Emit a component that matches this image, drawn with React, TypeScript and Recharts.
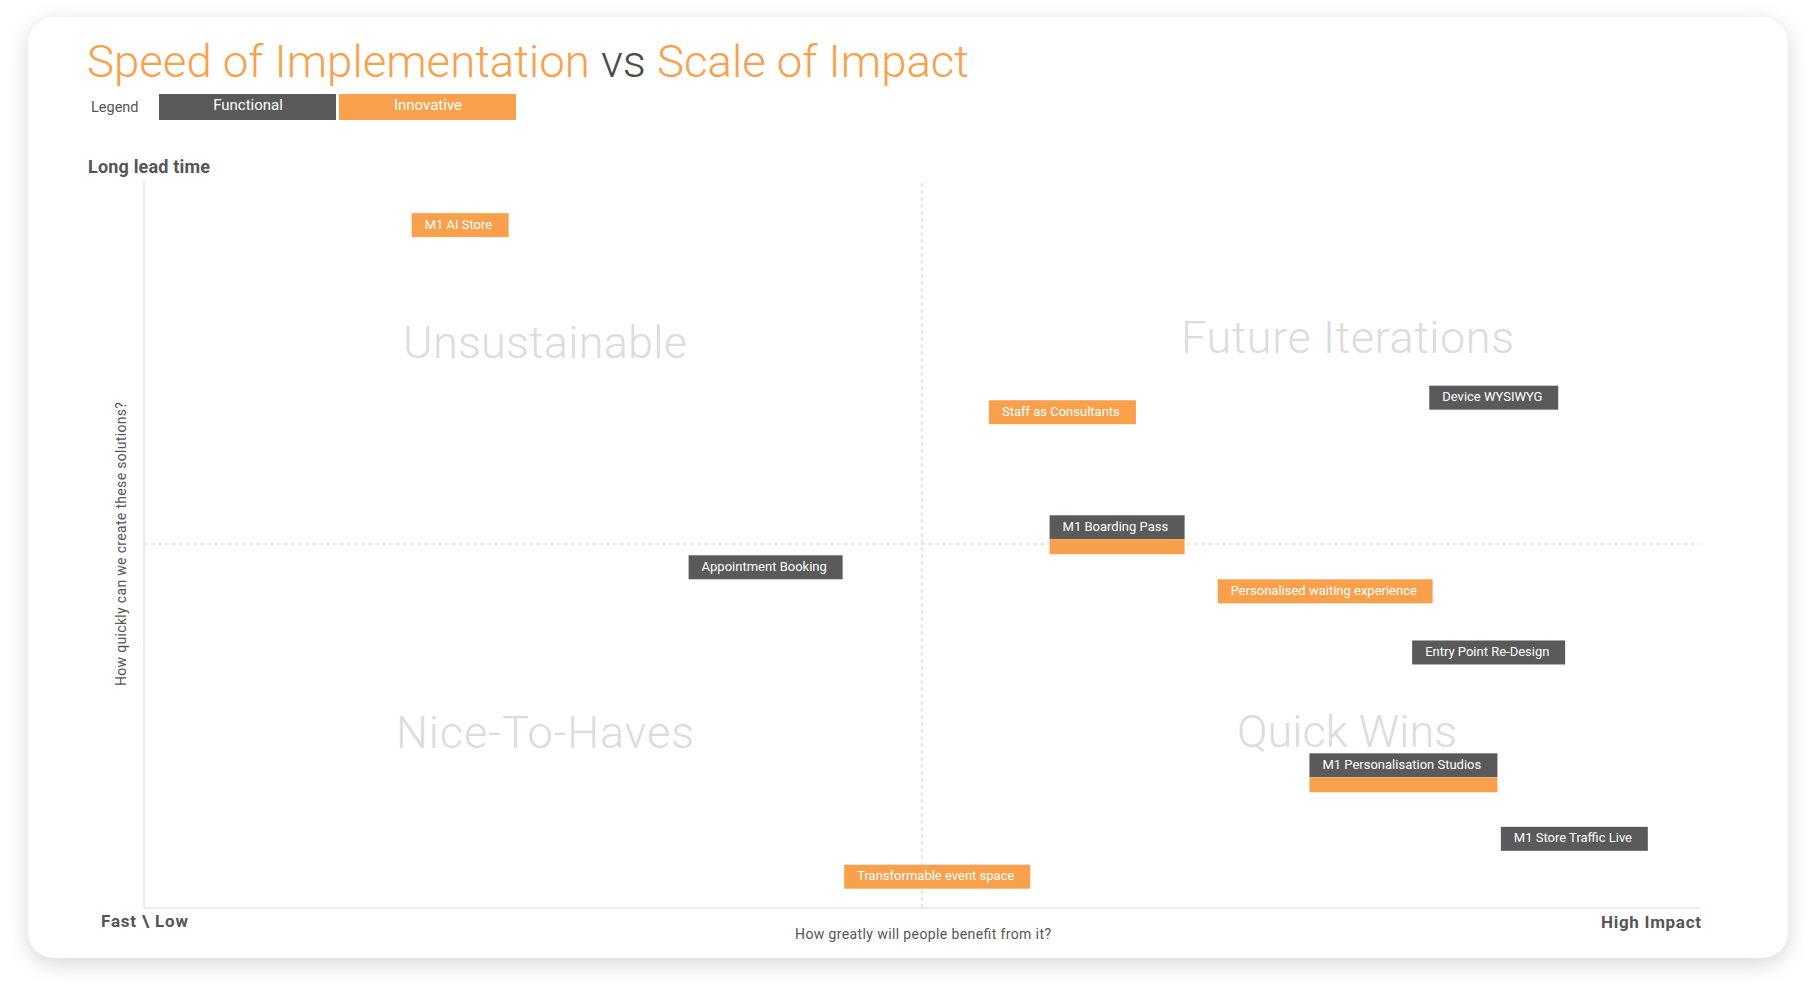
import React from "react";
import {
  ScatterChart,
  Scatter,
  XAxis,
  YAxis,
  ReferenceLine,
} from "recharts";

// solutions on the impact (x) / lead time (y) grid, 0..10 each
const solutions = [
  "M1 AI Store",
  "Staff as Consultants",
  "Device WYSIWYG",
  "M1 Boarding Pass",
  "Appointment Booking",
  "Personalised waiting experience",
  "Entry Point Re-Design",
  "M1 Personalisation Studios",
  "M1 Store Traffic Live",
  "Transformable event space",
];
const impact = [1.72, 5.43, 8.26, 5.82, 3.5, 6.9, 8.15, 7.49, 8.72, 4.5];
const leadTime = [9.38, 6.81, 7.01, 5.23, 4.68, 4.35, 3.51, 1.96, 0.95, 0.43];
const kinds = [
  "innovative",
  "innovative",
  "functional",
  "both",
  "functional",
  "innovative",
  "functional",
  "both",
  "functional",
  "innovative",
];

const legendItems = ["Functional", "Innovative"];
const quadrants = ["Unsustainable", "Future Iterations", "Nice-To-Haves", "Quick Wins"];

const ORANGE = "#F9A04C";
const GREY = "#5a5a5a";
const TEXT = "#555555";
const FONT = "Roboto, 'Noto Sans', sans-serif";

const data = solutions.map((name, i) => ({
  name,
  x: impact[i],
  y: leadTime[i],
  kind: kinds[i],
}));

let ctx: CanvasRenderingContext2D | null = null;
function textWidth(s: string) {
  if (!ctx) ctx = document.createElement("canvas").getContext("2d");
  if (!ctx) return s.length * 6.4;
  ctx.font = "13px Roboto";
  return ctx.measureText(s).width;
}

const Tag = (props: any) => {
  const { cx, cy, payload } = props;
  const w = Math.round(textWidth(payload.name) + 29);
  const top = cy - 12;
  return (
    <g>
      <rect
        x={cx}
        y={top}
        width={w}
        height={24}
        fill={payload.kind === "innovative" ? ORANGE : GREY}
      />
      {payload.kind === "both" && (
        <rect x={cx} y={top + 24} width={w} height={15} fill={ORANGE} />
      )}
      <text
        x={cx + 13}
        y={cy + 3.5}
        fill="#fff"
        fontSize={13}
        fontFamily={FONT}
      >
        {payload.name}
      </text>
    </g>
  );
};

export default function App() {
  return (
    <div
      style={{
        position: "absolute",
        left: 0,
        top: 0,
        width: 1816,
        height: 996,
        background: "#fff",
        overflow: "hidden",
      }}
    >
      <div
        style={{
          position: "absolute",
          left: 28,
          top: 17,
          width: 1760,
          height: 941,
          borderRadius: 26,
          background: "#fff",
          boxShadow: "0 6px 22px rgba(0,0,0,0.16)",
        }}
      />
      <svg
        width={1816}
        height={996}
        style={{ position: "absolute", left: 0, top: 0 }}
        fontFamily={FONT}
      >
        <text x={87} y={77} fontSize={45} fontWeight={300} textLength={882} lengthAdjust="spacingAndGlyphs">
          <tspan fill={ORANGE}>Speed of Implementation </tspan>
          <tspan fill="#4a4a4a">vs </tspan>
          <tspan fill={ORANGE}>Scale of Impact</tspan>
        </text>

        <text x={91} y={112} fontSize={14.5} fill={TEXT}>
          Legend
        </text>
        {legendItems.map((l, i) => (
          <g key={l}>
            <rect x={159 + i * 180} y={94} width={177} height={26} fill={i === 0 ? GREY : ORANGE} />
            <text x={248 + i * 180} y={110} fontSize={15} fill="#fff" textAnchor="middle">
              {l}
            </text>
          </g>
        ))}

        <text x={88} y={173} fontSize={18} fontWeight={700} fill={TEXT} textLength={122}>
          Long lead time
        </text>
        <text x={101} y={927} fontSize={17} fontWeight={700} fill={TEXT} textLength={87}>
          Fast \ Low
        </text>
        <text x={1601} y={928} fontSize={17} fontWeight={700} fill={TEXT} textLength={100}>
          High Impact
        </text>
        <text x={795} y={939} fontSize={14} fill={TEXT} textLength={256}>
          How greatly will people benefit from it?
        </text>
        <text
          transform="translate(126,686) rotate(-90)"
          fontSize={14}
          fill={TEXT}
          textLength={284}
        >
          How quickly can we create these solutions?
        </text>

        <text x={403} y={358} fontSize={45} fontWeight={300} fill="#dcdcdc" textLength={284}>
          {quadrants[0]}
        </text>
        <text x={1181} y={353} fontSize={45} fontWeight={300} fill="#dcdcdc" textLength={333}>
          {quadrants[1]}
        </text>
        <text x={396} y={748} fontSize={45} fontWeight={300} fill="#dcdcdc" textLength={298}>
          {quadrants[2]}
        </text>
        <text x={1237} y={747} fontSize={45} fontWeight={300} fill="#dcdcdc" textLength={220}>
          {quadrants[3]}
        </text>
      </svg>

      <div style={{ position: "absolute", left: 0, top: 0 }}>
        <ScatterChart
          width={1816}
          height={996}
          margin={{ top: 180, right: 116, bottom: 88, left: 144 }}
        >
          <XAxis type="number" dataKey="x" domain={[0, 10]} hide />
          <YAxis type="number" dataKey="y" domain={[0, 10]} hide />
          <ReferenceLine x={5} stroke="#cfcfcf" strokeDasharray="4 3" />
          <ReferenceLine y={5} stroke="#cfcfcf" strokeDasharray="4 3" />
          <ReferenceLine x={0} stroke="#d6d6d6" />
          <ReferenceLine y={0} stroke="#d6d6d6" />
          <Scatter data={data} shape={Tag} isAnimationActive={false} />
        </ScatterChart>
      </div>
    </div>
  );
}
